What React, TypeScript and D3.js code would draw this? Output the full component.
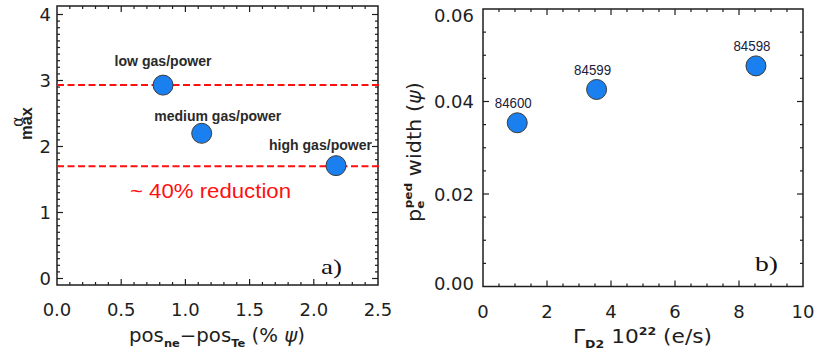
import React from "react";
import * as d3 from "d3";

// ---------- data ----------
const aX = [0.826, 1.127, 2.173];
const aY = [2.93, 2.2, 1.71];
const aLabels = ["low gas/power", "medium gas/power", "high gas/power"];
const aRefLines = [2.93, 1.7];
const aXTicks = [0, 0.5, 1.0, 1.5, 2.0, 2.5];
const aXTickLabels = ["0.0", "0.5", "1.0", "1.5", "2.0", "2.5"];
const aYTicks = [0, 1, 2, 3, 4];
const aYTickLabels = ["0", "1", "2", "3", "4"];
const aNote = "~ 40% reduction";

const bX = [1.07, 3.55, 8.53];
const bY = [0.0354, 0.0426, 0.0477];
const bLabels = ["84600", "84599", "84598"];
const bXTicks = [0, 2, 4, 6, 8, 10];
const bXTickLabels = ["0", "2", "4", "6", "8", "10"];
const bYTicks = [0, 0.02, 0.04, 0.06];
const bYTickLabels = ["0.00", "0.02", "0.04", "0.06"];

// ---------- styles / layout ----------
const W = 814;
const H = 353;
const TICK_FONT = "'DejaVu Sans', sans-serif";
const SANS = "'Liberation Sans', Arial, sans-serif";
const SERIF = "'Liberation Serif', 'Times New Roman', serif";
const INK = "#1e1e1e";
const DOT_FILL = "#1a80f0";
const DOT_STROKE = "#3a3a3a";
const RED = "#ff1010";
const DOT_R = 10;
const aLabelOffsets = [
  [0, -19],
  [16, -12.5],
  [-15.5, -15.5],
];
const aLabelWidths = [97, 127, 103];

const boxA = { l: 57, r: 378, t: 6, b: 285 };
const boxB = { l: 483, r: 803, t: 9, b: 286.5 };

const xA = d3.scaleLinear().domain([0, 2.5]).range([boxA.l, boxA.r]);
const yA = d3.scaleLinear().domain([0, 4]).range([278.5, 14.5]);
const xB = d3.scaleLinear().domain([0, 10]).range([boxB.l, boxB.r]);
const yB = d3.scaleLinear().domain([0, 0.06]).range([boxB.b, boxB.t]);

function Frame({ box, xs, ys, xMinor, yMinor, xMajor, yMajor }) {
  const MAJ = 6;
  const MIN = 3;
  const inside = (v, lo, hi) => v > Math.min(lo, hi) + 0.5 && v < Math.max(lo, hi) - 0.5;
  const lines = [];
  const xTickVals = xMinor.map((v) => ({ v, major: xMajor.some((m) => Math.abs(m - v) < 1e-6) }));
  const yTickVals = yMinor.map((v) => ({ v, major: yMajor.some((m) => Math.abs(m - v) < 1e-6) }));
  xTickVals.forEach(({ v, major }, i) => {
    const px = xs(v);
    if (!inside(px, box.l, box.r)) return;
    const len = major ? MAJ : MIN;
    lines.push(<line key={"xb" + i} x1={px} x2={px} y1={box.b} y2={box.b - len} />);
    lines.push(<line key={"xt" + i} x1={px} x2={px} y1={box.t} y2={box.t + len} />);
  });
  yTickVals.forEach(({ v, major }, i) => {
    const py = ys(v);
    if (!inside(py, box.t, box.b)) return;
    const len = major ? MAJ : MIN;
    lines.push(<line key={"yl" + i} x1={box.l} x2={box.l + len} y1={py} y2={py} />);
    lines.push(<line key={"yr" + i} x1={box.r} x2={box.r - len} y1={py} y2={py} />);
  });
  return (
    <g stroke={INK} strokeWidth={1.2} fill="none">
      {lines}
      <rect x={box.l} y={box.t} width={box.r - box.l} height={box.b - box.t} strokeWidth={1.5} />
    </g>
  );
}

function XTickLabels({ xs, ticks, labels, y }) {
  return (
    <g fontFamily={TICK_FONT} fontSize={18} fill={INK} textAnchor="middle">
      {ticks.map((t, i) => (
        <text key={i} x={xs(t)} y={y}>
          {labels[i]}
        </text>
      ))}
    </g>
  );
}

function YTickLabels({ ys, ticks, labels, x, box }) {
  return (
    <g fontFamily={TICK_FONT} fontSize={18} fill={INK} textAnchor="end">
      {ticks.map((t, i) => {
        const c = Math.min(Math.max(ys(t), box.t + 6.5), box.b - 3);
        return (
          <text key={i} x={x} y={c + 6.5}>
            {labels[i]}
          </text>
        );
      })}
    </g>
  );
}

export default function App() {
  return (
    <svg
      width={W}
      height={H}
      viewBox={`0 0 ${W} ${H}`}
      style={{ position: "absolute", left: 0, top: 0, display: "block", background: "#fff" }}
    >
      <rect x={0} y={0} width={W} height={H} fill="#fff" />

      {/* ---------- Panel a ---------- */}
      <Frame
        box={boxA}
        xs={xA}
        ys={yA}
        xMinor={d3.range(0, 2.5001, 0.1).map((v) => +v.toFixed(2))}
        xMajor={aXTicks}
        yMinor={d3.range(0, 4.0001, 0.1).map((v) => +v.toFixed(2))}
        yMajor={aYTicks}
      />
      <XTickLabels xs={xA} ticks={aXTicks} labels={aXTickLabels} y={316} />
      <YTickLabels ys={yA} ticks={aYTicks} labels={aYTickLabels} x={51} box={boxA} />

      {aRefLines.map((v, i) => (
        <line
          key={i}
          x1={boxA.l}
          x2={boxA.r + 4}
          y1={yA(v)}
          y2={yA(v)}
          stroke={RED}
          strokeWidth={2}
          strokeDasharray="7,3.5"
        />
      ))}

      {aX.map((v, i) => (
        <circle key={i} cx={xA(v)} cy={yA(aY[i])} r={DOT_R} fill={DOT_FILL} stroke={DOT_STROKE} strokeWidth={1} />
      ))}
      {aX.map((v, i) => (
        <text
          key={i}
          x={xA(v) + aLabelOffsets[i][0]}
          y={yA(aY[i]) + aLabelOffsets[i][1]}
          textAnchor="middle"
          fontFamily={SANS}
          fontWeight="bold"
          fontSize={14}
          fill="#2a2a2a"
          textLength={aLabelWidths[i]}
          lengthAdjust="spacingAndGlyphs"
        >
          {aLabels[i]}
        </text>
      ))}
      <text
        x={130}
        y={198}
        fontFamily={SANS}
        fontSize={21}
        fill={RED}
        textLength={161}
        lengthAdjust="spacingAndGlyphs"
      >
        {aNote}
      </text>
      <text x={321} y={274} fontFamily={SERIF} fontSize={22} fill="#111" textLength={21} lengthAdjust="spacingAndGlyphs">
        a)
      </text>

      {/* x title a */}
      <text
        x={217}
        y={342}
        textAnchor="middle"
        fontFamily={TICK_FONT}
        fontSize={19}
        fill={INK}
        textLength={176}
        lengthAdjust="spacingAndGlyphs"
      >
        <tspan>pos</tspan>
        <tspan fontSize={11} fontWeight="bold" dy={5}>ne</tspan>
        <tspan dy={-5}>−pos</tspan>
        <tspan fontSize={11} fontWeight="bold" dy={5}>Te</tspan>
        <tspan dy={-5}>{" (% "}</tspan>
        <tspan fontStyle="italic">ψ</tspan>
        <tspan>)</tspan>
      </text>

      {/* y title a */}
      <g transform="translate(32,140) rotate(-90)">
        <text x={0} y={0} fontFamily={SANS} fontWeight="bold" fontSize={17} fill={INK} textLength={33} lengthAdjust="spacingAndGlyphs">
          max
        </text>
        <text x={13} y={-9} fontFamily={TICK_FONT} fontSize={16} fill={INK}>
          α
        </text>
      </g>

      {/* ---------- Panel b ---------- */}
      <Frame
        box={boxB}
        xs={xB}
        ys={yB}
        xMinor={d3.range(0, 10.001, 0.5).map((v) => +v.toFixed(2))}
        xMajor={bXTicks}
        yMinor={d3.range(0, 0.06001, 0.005).map((v) => +v.toFixed(3))}
        yMajor={bYTicks}
      />
      <XTickLabels xs={xB} ticks={bXTicks} labels={bXTickLabels} y={318} />
      <YTickLabels ys={yB} ticks={bYTicks} labels={bYTickLabels} x={474} box={boxB} />

      {bX.map((v, i) => (
        <circle key={i} cx={xB(v)} cy={yB(bY[i])} r={DOT_R} fill={DOT_FILL} stroke={DOT_STROKE} strokeWidth={1} />
      ))}
      {bX.map((v, i) => (
        <text
          key={i}
          x={xB(v) - 4}
          y={yB(bY[i]) - 14.4}
          textAnchor="middle"
          fontFamily={SANS}
          fontSize={14}
          fill="#20203a"
          textLength={37}
          lengthAdjust="spacingAndGlyphs"
        >
          {bLabels[i]}
        </text>
      ))}
      <text x={755} y={271} fontFamily={SERIF} fontSize={22} fill="#111" textLength={23} lengthAdjust="spacingAndGlyphs">
        b)
      </text>

      {/* x title b */}
      <text
        x={642.5}
        y={343}
        textAnchor="middle"
        fontFamily={TICK_FONT}
        fontSize={19}
        fill={INK}
        textLength={139}
        lengthAdjust="spacingAndGlyphs"
      >
        <tspan>Γ</tspan>
        <tspan fontSize={11} fontWeight="bold" dy={5}>D2</tspan>
        <tspan dy={-5}>{" 10"}</tspan>
        <tspan fontSize={11} fontWeight="bold" dy={-8}>22</tspan>
        <tspan dy={8}>{" (e/s)"}</tspan>
      </text>

      {/* y title b */}
      <g transform="translate(421,222) rotate(-90)">
        <text
          x={0}
          y={0}
          fontFamily={TICK_FONT}
          fontSize={19}
          fill={INK}
          textLength={140}
          lengthAdjust="spacingAndGlyphs"
        >
          <tspan>p</tspan>
          <tspan fontSize={11} fontWeight="bold" dy={3}>e</tspan>
          <tspan fontSize={11} fontWeight="bold" dx={-7} dy={-12}>ped</tspan>
          <tspan dy={9}>{" width ("}</tspan>
          <tspan fontStyle="italic">ψ</tspan>
          <tspan>)</tspan>
        </text>
      </g>
    </svg>
  );
}
